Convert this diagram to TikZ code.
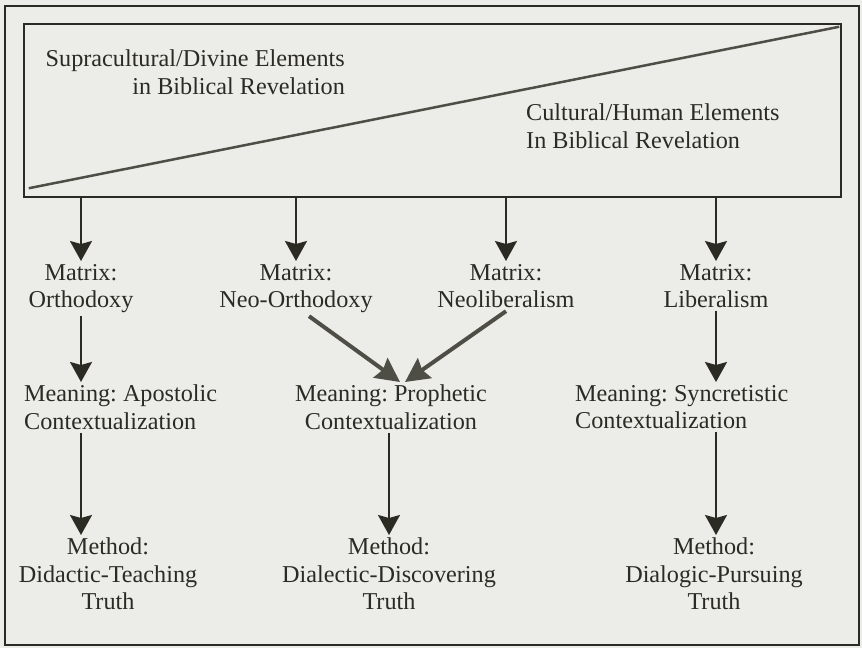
\documentclass[tikz,border=0pt]{standalone}
\usepackage{fontspec}
\setmainfont{Liberation Serif}
\frenchspacing
\usepackage{tikz}
\usetikzlibrary{arrows.meta,positioning,calc}
\definecolor{ink}{HTML}{2B2B24}
\definecolor{paper}{HTML}{ECECE9}
\definecolor{slate}{HTML}{4E4E46}
\tikzset{
  txt/.style={inner sep=3pt,text=ink,font=\fontsize{24.2}{27.5}\selectfont,align=#1},
  txt/.default={center},
  arr/.style={-{Stealth[length=20pt,width=22pt,inset=3pt]},line width=2pt,draw=ink},
  fatarr/.style={-{Stealth[length=24pt,width=24pt,inset=3pt]},line width=4pt,draw=slate},
}

\begin{document}
\begin{tikzpicture}[x=1pt,y=-1pt]
 \fill[paper] (0,0) rectangle (862,648);
 \useasboundingbox (0,0) rectangle (862,648);
 \draw[ink,line width=2pt] (5,6) rectangle (859,645);
 \node[draw=ink,line width=2.5pt,minimum width=817pt,minimum height=173pt,inner sep=0pt] (rev) at (432.5,110.5) {};
 \draw[slate,line width=2.5pt] ([shift={(6pt,10pt)}]rev.south west) -- ([shift={(-3pt,-4pt)}]rev.north east);
 \node[txt=right,anchor=east] (sup) at (348,72) {Supracultural/Divine Elements\\in Biblical Revelation};
 \node[txt=left,anchor=west] (cul) at (523,126) {Cultural/Human Elements\\In Biblical Revelation};
 \node[txt,anchor=north] (m1) at (81,261) {Matrix:\\Orthodoxy};
 \node[txt,anchor=north] (m2) at (296,261) {Matrix:\\Neo-Orthodoxy};
 \node[txt,anchor=north] (m3) at (506,261) {Matrix:\\Neoliberalism};
 \node[txt,anchor=north] (m4) at (716,261) {Matrix:\\Liberalism};
 \node[txt=left,anchor=north west] (c1) at (21,382) {Meaning: Apostolic\\Contextualization};
 \node[txt,anchor=north] (c2) at (391,382) {Meaning: Prophetic\\Contextualization};
 \node[txt=left,anchor=north west] (c3) at (572,382) {Meaning: Syncretistic\\Contextualization};
 \node[txt,anchor=north] (d1) at (108,535) {Method:\\Didactic-Teaching\\Truth};
 \node[txt,anchor=north] (d2) at (389,535) {Method:\\Dialectic-Discovering\\Truth};
 \node[txt,anchor=north] (d3) at (714,535) {Method:\\Dialogic-Pursuing\\Truth};
 \foreach \m in {m1,m2,m3,m4}
  \draw[arr] (rev.south -| \m) -- (\m.north);
 \draw[arr] (m1.south) -- (m1.south |- c1.north);
 \draw[arr] (m4.south) -- (m4.south |- c3.north);
 \draw[fatarr] ([xshift=13pt]m2.south) -- ([xshift=9pt]c2.north);
 \draw[fatarr] (m3.south) -- ([xshift=14pt]c2.north);
 \draw[arr] (c1.south -| m1) -- (d1.north -| m1);
 \draw[arr] (c2.south -| d2) -- (d2.north);
 \draw[arr] (c3.south -| m4) -- (d3.north -| m4);
\end{tikzpicture}
\end{document}
